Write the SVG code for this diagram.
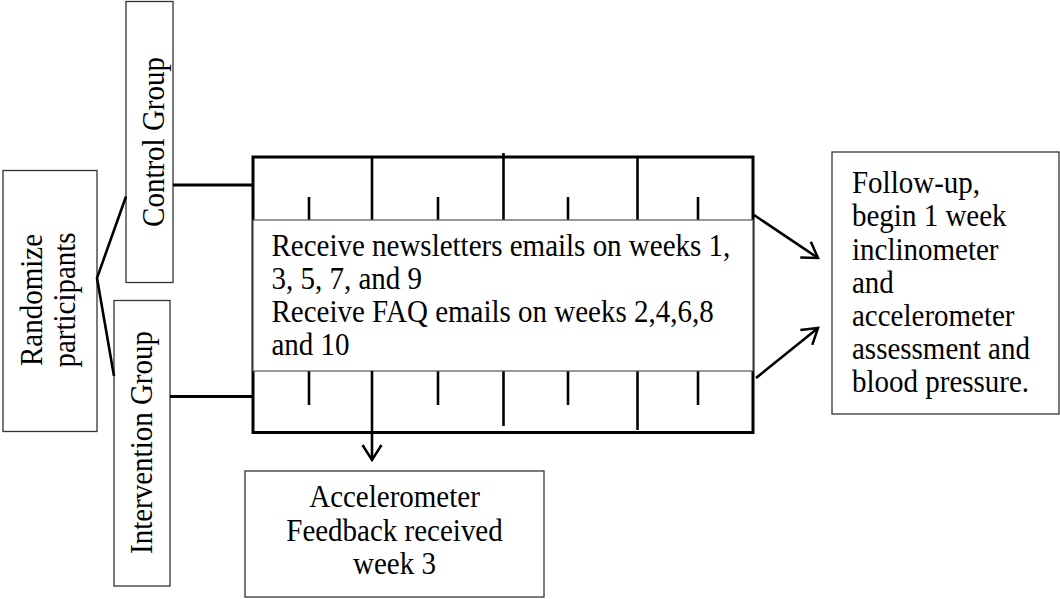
<svg xmlns="http://www.w3.org/2000/svg" width="1060" height="599" viewBox="0 0 1060 599">
<style>
  .box { fill: #fff; stroke: #333; stroke-width: 1.3; }
  .band { fill: #fff; stroke: #555; stroke-width: 1.2; }
  .thick { fill: none; stroke: #000; stroke-width: 3; }
  .tick { fill: none; stroke: #000; stroke-width: 2.6; }
  .conn { fill: none; stroke: #000; stroke-width: 2.6; }
  .lbl { font-family: "Liberation Serif", "Times New Roman", serif; font-size: 29px; fill: #000; }
  .mid { text-anchor: middle; }
</style>
<defs>
  <marker id="arr" viewBox="-17 -11 19 22" refX="0" refY="0" markerWidth="19" markerHeight="22" markerUnits="userSpaceOnUse" orient="auto" overflow="visible">
    <path d="M-15,-9.5 L0,0 L-15,9.5" fill="none" stroke="#000" stroke-width="2.5"/>
  </marker>
</defs>

<g id="randomize">
  <rect class="box" x="3" y="170.5" width="94" height="261"/>
  <text class="lbl mid" transform="translate(42 300) rotate(-90) scale(1 1.1)">Randomize</text>
  <text class="lbl mid" transform="translate(74.5 300) rotate(-90) scale(1 1.1)">participants</text>
</g>

<g id="control">
  <rect class="box" x="126" y="1.5" width="47" height="281"/>
  <text class="lbl mid" transform="translate(163.5 142) rotate(-90) scale(1 1.1)">Control Group</text>
</g>

<g id="intervention">
  <rect class="box" x="114" y="300.5" width="56" height="285.5"/>
  <text class="lbl mid" transform="translate(152 442.5) rotate(-90) scale(1 1.1)">Intervention Group</text>
</g>

<g id="timeline">
  <rect class="thick" x="253" y="157" width="500" height="275.5"/>
  <line class="tick" x1="372" y1="157" x2="372" y2="220"/>
  <line class="tick" x1="503.5" y1="153" x2="503.5" y2="220"/>
  <line class="tick" x1="637.5" y1="157" x2="637.5" y2="220"/>
  <line class="tick" x1="309" y1="197" x2="309" y2="220"/>
  <line class="tick" x1="438" y1="197" x2="438" y2="220"/>
  <line class="tick" x1="568" y1="197" x2="568" y2="220"/>
  <line class="tick" x1="698" y1="197" x2="698" y2="220"/>
  <line class="tick" x1="503.5" y1="371" x2="503.5" y2="426"/>
  <line class="tick" x1="637.5" y1="371" x2="637.5" y2="430"/>
  <line class="tick" x1="309" y1="371" x2="309" y2="405"/>
  <line class="tick" x1="438" y1="371" x2="438" y2="405"/>
  <line class="tick" x1="568" y1="371" x2="568" y2="405"/>
  <line class="tick" x1="698" y1="371" x2="698" y2="405"/>
</g>

<g id="emails">
  <rect class="band" x="253" y="220" width="500" height="151"/>
  <text class="lbl" transform="matrix(1 0 0 1.1 271.5 256)">Receive newsletters emails on weeks 1,</text>
  <text class="lbl" transform="matrix(1 0 0 1.1 271.5 289)">3, 5, 7, and 9</text>
  <text class="lbl" transform="matrix(1 0 0 1.1 271.5 322)">Receive FAQ emails on weeks 2,4,6,8</text>
  <text class="lbl" transform="matrix(1 0 0 1.1 271.5 355)">and 10</text>
</g>

<g id="followup">
  <rect class="box" x="832" y="152" width="227" height="262"/>
  <text class="lbl" transform="matrix(1 0 0 1.1 852 193)">Follow-up,</text>
  <text class="lbl" transform="matrix(1 0 0 1.1 852 226)">begin 1 week</text>
  <text class="lbl" transform="matrix(1 0 0 1.1 852 259.5)">inclinometer</text>
  <text class="lbl" transform="matrix(1 0 0 1.1 852 292.5)">and</text>
  <text class="lbl" transform="matrix(1 0 0 1.1 852 326)">accelerometer</text>
  <text class="lbl" transform="matrix(1 0 0 1.1 852 359)">assessment and</text>
  <text class="lbl" transform="matrix(1 0 0 1.1 852 392)">blood pressure.</text>
</g>

<g id="feedback">
  <rect class="box" x="245" y="471" width="299" height="126"/>
  <text class="lbl mid" transform="matrix(1 0 0 1.1 394.5 507)">Accelerometer</text>
  <text class="lbl mid" transform="matrix(1 0 0 1.1 394.5 540.5)">Feedback received</text>
  <text class="lbl mid" transform="matrix(1 0 0 1.1 394.5 574)">week 3</text>
</g>

<g id="connectors">
  <line class="thick" x1="173" y1="185" x2="253" y2="185"/>
  <line class="thick" x1="170" y1="396.5" x2="253" y2="396.5"/>
  <polyline class="conn" points="126,196.5 97,278 114,376"/>
  <line class="conn" x1="754" y1="215" x2="818" y2="258" marker-end="url(#arr)"/>
  <line class="conn" x1="756" y1="378" x2="818" y2="328" marker-end="url(#arr)"/>
  <line class="tick" x1="372" y1="371" x2="372" y2="460" marker-end="url(#arr)"/>
</g>
</svg>
